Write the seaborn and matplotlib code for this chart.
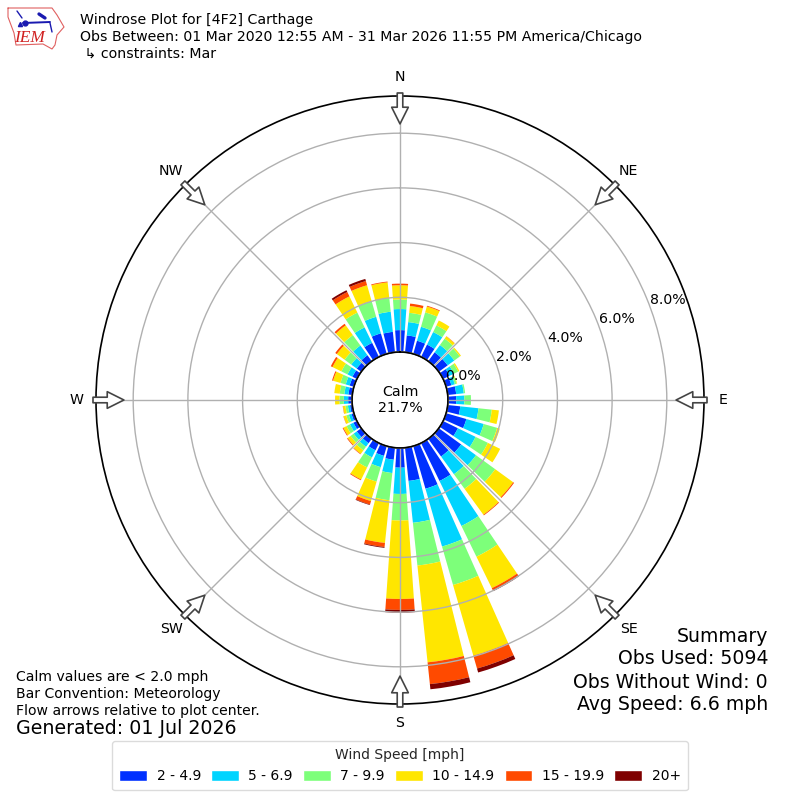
import numpy as np
import pandas as pd
import matplotlib
matplotlib.use("Agg")
import matplotlib.pyplot as plt
import seaborn as sns
from matplotlib.patches import Patch

# Percent of obs per direction, 0 to 350 by 10 degrees
directions = list(range(0, 360, 10))
speed_labels = ["2 - 4.9", "5 - 6.9", "7 - 9.9", "10 - 14.9", "15 - 19.9", "20+"]
speed_colors = ["#0030ff", "#00d4ff", "#7dff7a", "#ffe600", "#ff4a00", "#7f0000"]

s2_5 = [.80, .62, .50, .50, .40, .40, .26, .20, .31, .30, .46, .77, .60, 1.01, .80, 1.54, 1.62, 1.22,
        .72, .44, .37, .29, .20, .20, .14, .09, .08, .14, .14, .16, .18, .20, .27, .57, .78, .75]
s5_7 = [.77, .49, .53, .51, .33, .30, .18, .13, .28, .30, .67, .66, .72, .67, .80, 1.83, 2.20, 1.54,
        .96, .49, .43, .29, .16, .14, .14, .10, .08, .16, .15, .15, .20, .25, .44, .63, .63, .74]
s7_10 = [.35, .34, .55, .27, .29, .25, .17, .07, .05, .24, .49, .51, .50, .87, .66, 1.25, 1.46, 1.57,
         .97, 1.00, .55, .41, .16, .14, .14, .10, .09, .16, .17, .20, .25, .30, .47, .60, .60, .50]
s10_15 = [.52, .25, .22, .20, .10, .05, .05, .02, .0, .0, .26, .10, .50, .81, 1.17, 1.28, 2.69, 3.56,
          2.87, 1.57, .74, .49, .16, .13, .13, .10, .09, .16, .20, .28, .36, .35, .44, .66, .60, .58]
s15_20 = [.06, .09, .03, .0, .01, .0, .0, .0, .0, .0, .0, .0, .0, .04, .03, .08, .49, .80,
          .40, .15, .13, .03, .02, .03, .03, .01, .01, .0, .0, .04, .07, .07, .07, .18, .16, .03]
s20 = [.0, .0, .0, .0, .0, .0, .0, .0, .0, .0, .0, .0, .0, .0, .0, .04, .15, .19,
       .10, .03, .02, .0, .0, .0, .0, .0, .0, .0, .0, .0, .0, .0, .0, .07, .08, .0]
rticks = [0, 2, 4, 6, 8]
compass = ["N", "NE", "E", "SE", "S", "SW", "W", "NW"]
summary_lines = ["Summary", "Obs Used: 5094", "Obs Without Wind: 0", "Avg Speed: 6.6 mph"]

# logo shapes, in reference pixels
iowa_x = [8, 52, 57, 64, 57, 55, 52, 43, 16, 14, 8, 8]
iowa_y = [8, 8, 15, 27, 35, 45, 49, 44, 45, 33, 17, 8]

sns.set_theme(style="white")
plt.rcParams["font.family"] = ["DejaVu Sans"]

df = pd.DataFrame({"theta": np.radians(directions)})

fig = plt.figure(figsize=(8, 8), dpi=100)
ax = fig.add_axes([0.12, 0.12, 0.76, 0.76], projection="polar")

# stack each speed class on the ones below it
base = np.zeros(len(directions))
for values, color in zip([s2_5, s5_7, s7_10, s10_15, s15_20, s20], speed_colors):
    df["pct"] = values
    sns.barplot(data=df, x="theta", y="pct", native_scale=True, color=color, saturation=1,
                width=0.8, errorbar=None, ax=ax, linewidth=0, bottom=base)
    base = base + np.array(values)

ax.set_theta_zero_location("N")
ax.set_theta_direction(-1)
ax.set_xlim(0, 2 * np.pi)
ax.set_rorigin(-1.755)
ax.set_ylim(0, 9.36)
ax.set_xlabel("")
ax.set_ylabel("")
ax.set_xticks(np.radians(np.arange(0, 360, 45)))
ax.set_xticklabels(compass, fontsize=10.2, color="black")
ax.tick_params(axis="x", pad=1)
ax.set_yticks(rticks)
ax.set_yticklabels([f"{r:.1f}%" for r in rticks], fontsize=10.2, color="black")
ax.set_rlabel_position(69.6)
ax.set_axisbelow(False)
ax.grid(True, color="#b0b0b0", linewidth=1.0)
ax.spines["polar"].set_color("black")
ax.spines["polar"].set_linewidth(1.2)

# calm circle outline
ax.plot(np.linspace(0, 2 * np.pi, 200), np.zeros(200), color="black", lw=1.0, zorder=5, clip_on=False)
ax.text(0.5, 0.5, "Calm\n21.7%", transform=ax.transAxes, ha="center", va="center", fontsize=10.2,
        color="black", linespacing=1.2)

# flow arrows on the outer ring
for deg in np.arange(0, 360, 45):
    ax.annotate("", xy=(np.radians(deg), 8.34), xytext=(np.radians(deg), 9.47), xycoords="data",
                annotation_clip=False,
                arrowprops=dict(facecolor="white", edgecolor="#444444", width=4, headwidth=12,
                                headlength=12, linewidth=1.2, shrink=0), zorder=6)

handles = [Patch(facecolor=c, label=l) for c, l in zip(speed_colors, speed_labels)]
fig.legend(handles=handles, title="Wind Speed [mph]", loc="lower center", ncol=6, fontsize=10,
           title_fontsize=10, bbox_to_anchor=(0.5, 0.0), frameon=True, fancybox=True,
           edgecolor="lightgray", labelcolor="black", columnspacing=0.72, handletextpad=0.7,
           handlelength=2.0, handleheight=0.8, borderpad=0.5, borderaxespad=0.7)

fig.text(80 / 800, 1 - 13 / 800, "Windrose Plot for [4F2] Carthage\n"
         "Obs Between: 01 Mar 2020 12:55 AM - 31 Mar 2026 11:55 PM America/Chicago\n"
         " \u21b3 constraints: Mar", ha="left", va="top", fontsize=10.15, color="black", linespacing=1.25)
for n, line in enumerate(summary_lines):
    fig.text(768 / 800, 1 - (636 + 23 * n) / 800, line, ha="right", va="center", fontsize=13.6,
             color="black")
fig.text(16 / 800, 1 - 718 / 800, "Calm values are < 2.0 mph\nBar Convention: Meteorology\n"
         "Flow arrows relative to plot center.", ha="left", va="bottom", fontsize=10.1, color="black",
         linespacing=1.25)
fig.text(16 / 800, 1 - 738 / 800, "Generated: 01 Jul 2026", ha="left", va="bottom", fontsize=13.7,
         color="black")

# IEM logo, drawn from simple shapes in pixel space
logo = fig.add_axes([0, 1 - 55 / 800, 75 / 800, 55 / 800])
logo.set_xlim(0, 75)
logo.set_ylim(55, 0)
logo.axis("off")
logo.plot(iowa_x, iowa_y, color="#e06060", lw=0.8)
logo.plot([23, 50], [23, 22], color="#1a1ab0", lw=1.4)
logo.plot([25], [23], "o", color="#1a1ab0", ms=3.5)
logo.plot([20], [24], "^", color="#1a1ab0", ms=3)
logo.plot([17, 22], [11, 18], color="#1a1ab0", lw=1.0)
logo.plot([39, 45], [14, 18], color="#1a1ab0", lw=2.4)
logo.plot([50, 52], [23, 32], color="#1a1ab0", lw=1.0)
logo.text(30, 38, "IEM", family="Liberation Serif", style="italic", color="#d02020", fontsize=12.5,
          ha="center", va="center")

fig.savefig("out.png", dpi=100)
